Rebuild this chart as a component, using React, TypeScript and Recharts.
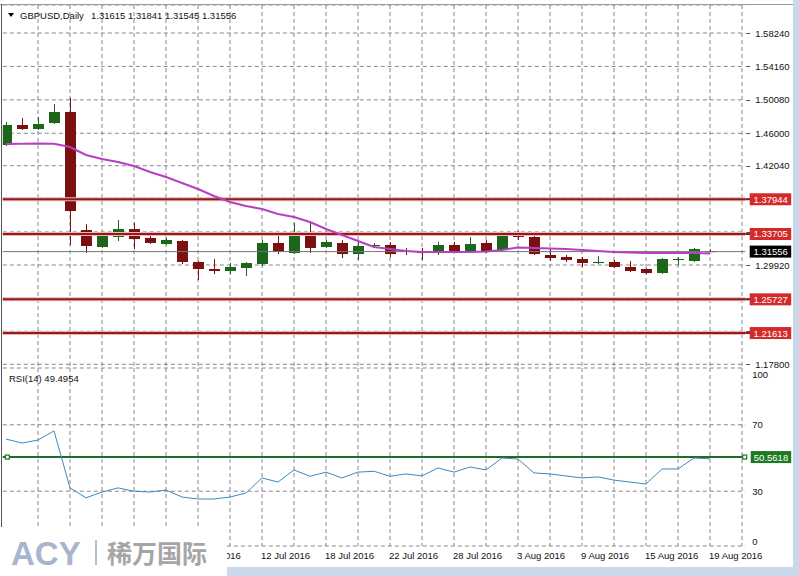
import React from 'react';
import {
  ComposedChart,
  Bar,
  Line,
  XAxis,
  YAxis,
  CartesianGrid,
  ReferenceLine,
} from 'recharts';

const FONT = '"Liberation Sans", Arial, sans-serif';

// daily bars, GBPUSD 20 Jun - 19 Aug 2016
const dates = [
  '20 Jun 2016', '21 Jun 2016', '22 Jun 2016', '23 Jun 2016', '24 Jun 2016',
  '27 Jun 2016', '28 Jun 2016', '29 Jun 2016', '30 Jun 2016', '1 Jul 2016',
  '4 Jul 2016', '5 Jul 2016', '6 Jul 2016', '7 Jul 2016', '8 Jul 2016',
  '11 Jul 2016', '12 Jul 2016', '13 Jul 2016', '14 Jul 2016', '15 Jul 2016',
  '18 Jul 2016', '19 Jul 2016', '20 Jul 2016', '21 Jul 2016', '22 Jul 2016',
  '25 Jul 2016', '26 Jul 2016', '27 Jul 2016', '28 Jul 2016', '29 Jul 2016',
  '1 Aug 2016', '2 Aug 2016', '3 Aug 2016', '4 Aug 2016', '5 Aug 2016',
  '8 Aug 2016', '9 Aug 2016', '10 Aug 2016', '11 Aug 2016', '12 Aug 2016',
  '15 Aug 2016', '16 Aug 2016', '17 Aug 2016', '18 Aug 2016', '19 Aug 2016',
];

const opens = [
  1.4457, 1.4701, 1.4652, 1.4725, 1.4860, 1.3419, 1.3212, 1.3334, 1.3431, 1.3322,
  1.3248, 1.3285, 1.3029, 1.2943, 1.2919, 1.2955, 1.3004, 1.3261, 1.3138, 1.3346,
  1.3212, 1.3261, 1.3126, 1.3224, 1.3236, 1.3163, 1.3151, 1.3138, 1.3236, 1.3163,
  1.3261, 1.3175, 1.3383, 1.3334, 1.3114, 1.3090, 1.3065, 1.3016, 1.3029, 1.2968,
  1.2943, 1.2894, 1.3053, 1.3041, 1.31615,
];
const highs = [
  1.4738, 1.4786, 1.4799, 1.4957, 1.5031, 1.3492, 1.3383, 1.3541, 1.3505, 1.3358,
  1.3322, 1.3297, 1.3041, 1.3065, 1.3016, 1.3029, 1.3297, 1.3346, 1.3505, 1.3505,
  1.3297, 1.3297, 1.3273, 1.3261, 1.3273, 1.3200, 1.3200, 1.3273, 1.3273, 1.3334,
  1.3297, 1.3395, 1.3407, 1.3358, 1.3187, 1.3114, 1.3090, 1.3102, 1.3053, 1.3041,
  1.2955, 1.3077, 1.3090, 1.3200, 1.31841,
];
const lows = [
  1.4445, 1.4640, 1.4640, 1.4713, 1.3236, 1.3138, 1.3200, 1.3285, 1.3187, 1.3248,
  1.3236, 1.3004, 1.2809, 1.2882, 1.2882, 1.2858, 1.2980, 1.3126, 1.3126, 1.3138,
  1.3200, 1.3077, 1.3053, 1.3200, 1.3090, 1.3114, 1.3053, 1.3114, 1.3138, 1.3138,
  1.3138, 1.3163, 1.3297, 1.3114, 1.3041, 1.3029, 1.2968, 1.3004, 1.2955, 1.2906,
  1.2882, 1.2882, 1.2992, 1.3029, 1.31545,
];
const closes = [
  1.4701, 1.4652, 1.4713, 1.4860, 1.3651, 1.3224, 1.3358, 1.3431, 1.3309, 1.3261,
  1.3297, 1.3029, 1.2943, 1.2919, 1.2968, 1.3016, 1.3261, 1.3151, 1.3358, 1.3200,
  1.3273, 1.3126, 1.3224, 1.3236, 1.3126, 1.3151, 1.3138, 1.3236, 1.3163, 1.3248,
  1.3163, 1.3383, 1.3334, 1.3126, 1.3077, 1.3053, 1.3016, 1.3029, 1.2968, 1.2919,
  1.2894, 1.3065, 1.3065, 1.3187, 1.31556,
];
const maValues = [
  1.4470, 1.4472, 1.4475, 1.4472, 1.4432, 1.4335, 1.4286, 1.4249, 1.4200, 1.4127,
  1.4066, 1.3993, 1.3920, 1.3834, 1.3761, 1.3712, 1.3676, 1.3615, 1.3578, 1.3517,
  1.3431, 1.3358, 1.3285, 1.3212, 1.3187, 1.3163, 1.3151, 1.3151, 1.3151, 1.3151,
  1.3157, 1.3175, 1.3206, 1.3200, 1.3194, 1.3187, 1.3175, 1.3163, 1.3151, 1.3145,
  1.3138, 1.3138, 1.3138, 1.3138, 1.3132,
];
const rsiValues = [
  61.4, 59.0, 60.8, 66.3, 32.0, 26.0, 29.5, 32.0, 30.0, 29.5,
  30.7, 26.5, 25.3, 25.3, 26.5, 28.9, 38.0, 35.5, 42.8, 39.0,
  41.5, 38.0, 41.5, 42.0, 39.0, 40.4, 39.2, 44.0, 41.5, 44.6,
  42.8, 50.0, 49.4, 41.0, 40.4, 39.2, 38.0, 38.6, 36.7, 35.5,
  34.3, 43.4, 43.4, 50.0, 49.5,
];

const priceTicks = [1.178, 1.2184, 1.2588, 1.2992, 1.3396, 1.381, 1.4204, 1.46, 1.5008, 1.5416, 1.5824];
const shownPriceTicks = [1.178, 1.2992, 1.4204, 1.46, 1.5008, 1.5416, 1.5824];
const levelLines = [1.37944, 1.33705, 1.25727, 1.21613];
const lastPrice = 1.31556;
const rsiTicks = [0, 30, 70, 100];
const rsiGrid = [30, 70];
const rsiLevel = 50.5618;
const gridIdx = [2, 4, 6, 8, 10, 12, 14, 16, 18, 20, 22, 24, 26, 28, 30, 32, 34, 36, 38, 40, 42, 44, 46];
// labels left of 6 Jul sit under the logo in the original screenshot
const dateTickIdx = [12, 16, 20, 24, 28, 32, 36, 40, 44];

const X_DOMAIN: [number, number] = [-0.2, 46.2];
const GRID = '#85858f';
const BULL = '#1b661b';
const BEAR = '#7a1010';
const LEVEL = '#8e1c1c';
const TAG_RED = '#d42a2a';
const GREEN = '#1f6d1f';

// grid positions through the axis scale (fallback: linear map of the plot box)
const xGrid = ({ xAxis, offset }: any) =>
  gridIdx.map((g) =>
    xAxis && typeof xAxis.scale === 'function'
      ? xAxis.scale(g)
      : offset.left + ((g - X_DOMAIN[0]) / (X_DOMAIN[1] - X_DOMAIN[0])) * offset.width
  );

const rsiYGrid = ({ yAxis, offset }: any) =>
  rsiGrid.map((v) =>
    yAxis && typeof yAxis.scale === 'function'
      ? yAxis.scale(v)
      : offset.top + ((104.2 - v) / 107.2) * offset.height
  );

const Candle = (props: any) => {
  const { x, y, width, height, payload } = props;
  if (!payload) return null;
  const { open, close, high, low } = payload;
  const top = Math.min(y, y + height);
  const h = Math.abs(height);
  const per = high > low ? h / (high - low) : 0;
  const yOf = (v: number) => top + (high - v) * per;
  const cx = Math.round(x + width / 2);
  const color = close >= open ? BULL : BEAR;
  const bTop = yOf(Math.max(open, close));
  const bH = Math.max(1, Math.abs(open - close) * per);
  return (
    <g>
      <line x1={cx + 0.5} x2={cx + 0.5} y1={top} y2={top + h} stroke={color} strokeWidth={1} />
      <rect x={cx - 5} y={bTop} width={11} height={bH} fill={color} />
    </g>
  );
};

const PriceTick = (props: any) => {
  const { x, y, payload } = props;
  const v = payload.value;
  const yy = Math.round(y) + 0.5;
  return (
    <g>
      <line x1={x + 1} x2={x + 5} y1={yy} y2={yy} stroke="#555" />
      {shownPriceTicks.includes(v) && (
        <text x={x + 10} y={y} dy={3.5} fontSize={9.5} fill="#111" fontFamily={FONT}>
          {v.toFixed(5)}
        </text>
      )}
    </g>
  );
};

const RsiTick = (props: any) => {
  const { x, y, payload } = props;
  return (
    <text x={x + 7} y={y} dy={3.5} fontSize={9.5} fill="#111" fontFamily={FONT}>
      {payload.value}
    </text>
  );
};

const DateTick = (props: any) => {
  const { x, y, payload } = props;
  const clipped = payload.value === 12;
  return (
    <g>
      {clipped && (
        <clipPath id="logo-cut">
          <rect x={227} y={y} width={60} height={20} />
        </clipPath>
      )}
      <text
        x={x - 1}
        y={y + 12.5}
        fontSize={9.5}
        fill="#111"
        fontFamily={FONT}
        textAnchor="start"
        clipPath={clipped ? 'url(#logo-cut)' : undefined}
      >
        {dates[payload.value]}
      </text>
    </g>
  );
};

const PriceTag = (props: any) => {
  const { viewBox, text, fill, lineColor } = props;
  if (!viewBox) return null;
  const right = viewBox.x + viewBox.width;
  const y = viewBox.y;
  return (
    <g>
      {lineColor && <line x1={right} x2={right + 5} y1={y} y2={y} stroke={lineColor} strokeWidth={2} />}
      <rect x={right + 4.5} y={y - 6} width={41.5} height={12} fill={fill} />
      <text x={right + 25.5} y={y} dy={3.5} fontSize={9.5} fill="#fff" textAnchor="middle" fontFamily={FONT}>
        {text}
      </text>
    </g>
  );
};

const RsiTag = (props: any) => {
  const { viewBox } = props;
  if (!viewBox) return null;
  const left = viewBox.x;
  const right = viewBox.x + viewBox.width;
  const y = viewBox.y;
  return (
    <g>
      <rect x={left + 2.5} y={y - 2} width={4} height={4} fill="#fff" stroke={GREEN} strokeWidth={1.2} />
      <rect x={right - 2.5} y={y - 2} width={4} height={4} fill="#fff" stroke={GREEN} strokeWidth={1.2} />
      <rect x={right + 5.5} y={y - 6} width={40.5} height={12} fill="#1e7a22" />
      <text x={right + 25.8} y={y} dy={3.5} fontSize={9.5} fill="#fff" textAnchor="middle" fontFamily={FONT}>
        {rsiLevel.toFixed(4)}
      </text>
    </g>
  );
};

export default function App() {
  const data = dates.map((d, i) => ({
    i,
    date: d,
    open: opens[i],
    high: highs[i],
    low: lows[i],
    close: closes[i],
    range: [lows[i], highs[i]],
    ma: maValues[i],
    rsi: rsiValues[i],
  }));

  return (
    <div
      style={{
        position: 'absolute',
        left: 0,
        top: 0,
        width: 799,
        height: 576,
        background: '#fff',
        overflow: 'hidden',
        fontFamily: FONT,
      }}
    >
      {/* price pane */}
      <div style={{ position: 'absolute', left: 0, top: 0 }}>
        <ComposedChart width={799} height={370} data={data} margin={{ top: 5, right: 0, bottom: 2, left: 2.8 }}>
          <CartesianGrid
            stroke={GRID}
            strokeDasharray="4 3"
            verticalCoordinatesGenerator={xGrid}
          />
          <XAxis type="number" dataKey="i" domain={X_DOMAIN} allowDataOverflow hide />
          <YAxis
            orientation="right"
            width={53.8}
            domain={[1.17347, 1.61658]}
            allowDataOverflow
            ticks={priceTicks}
            interval={0}
            tick={<PriceTick />}
            tickLine={false}
            axisLine={false}
            tickSize={0}
            tickMargin={0}
          />
          {levelLines.map((lv) => (
            <ReferenceLine key={'h' + lv} y={lv} stroke="#f2b4b4" strokeWidth={4} />
          ))}
          {levelLines.map((lv) => (
            <ReferenceLine
              key={'l' + lv}
              y={lv}
              stroke={LEVEL}
              strokeWidth={2}
              label={<PriceTag text={lv.toFixed(5)} fill={TAG_RED} lineColor={LEVEL} />}
            />
          ))}
          <ReferenceLine
            y={lastPrice}
            stroke="#777"
            strokeWidth={1}
            label={<PriceTag text={lastPrice.toFixed(5)} fill="#000" />}
          />
          <Bar dataKey="range" barSize={11} shape={(p: any) => <Candle {...p} />} isAnimationActive={false} />
          <Line
            type="linear"
            dataKey="ma"
            stroke="#b93fc2"
            strokeWidth={2}
            dot={false}
            activeDot={false}
            isAnimationActive={false}
          />
        </ComposedChart>
      </div>

      {/* RSI pane */}
      <div style={{ position: 'absolute', left: 0, top: 368 }}>
        <ComposedChart width={799} height={208} data={data} margin={{ top: 0, right: 0, bottom: 8, left: 2.8 }}>
          <CartesianGrid
            stroke={GRID}
            strokeDasharray="4 3"
            verticalCoordinatesGenerator={xGrid}
            horizontalCoordinatesGenerator={rsiYGrid}
          />
          <XAxis
            type="number"
            dataKey="i"
            domain={X_DOMAIN}
            allowDataOverflow
            ticks={dateTickIdx}
            interval={0}
            tick={<DateTick />}
            tickLine={false}
            tickSize={0}
            tickMargin={0}
            height={22}
            axisLine={{ stroke: GRID, strokeDasharray: '4 3' }}
          />
          <YAxis
            orientation="right"
            width={53.8}
            domain={[-3, 104.2]}
            allowDataOverflow
            ticks={rsiTicks}
            interval={0}
            tick={<RsiTick />}
            tickLine={false}
            axisLine={false}
            tickSize={0}
            tickMargin={0}
          />
          <ReferenceLine y={rsiLevel} stroke={GREEN} strokeWidth={2} label={<RsiTag />} />
          <Line
            type="linear"
            dataKey="rsi"
            stroke="#3a8bbf"
            strokeWidth={1}
            dot={false}
            activeDot={false}
            isAnimationActive={false}
          />
        </ComposedChart>
      </div>

      {/* window frame, titles and logo */}
      <svg width={799} height={576} style={{ position: 'absolute', left: 0, top: 0, pointerEvents: 'none' }}>
        <line x1={0} y1={4.5} x2={793} y2={4.5} stroke="#9a9a9a" />
        <line x1={1.5} y1={4} x2={1.5} y2={567} stroke="#555" />
        <polygon points="8,13 14,13 11,17" fill="#000" />
        <text x={20} y={18.5} fontSize={9.5} fill="#111" fontFamily={FONT}>GBPUSD,Daily</text>
        <text x={91} y={18.5} fontSize={9.5} fill="#111" fontFamily={FONT}>1.31615 1.31841 1.31545 1.31556</text>
        <text x={9} y={381.5} fontSize={9.5} fill="#111" fontFamily={FONT}>RSI(14) 49.4954</text>
        <rect x={793} y={0} width={6} height={576} fill="#c9d8eb" />
        <rect x={227} y={567} width={572} height={9} fill="#c9d8eb" />
        <rect x={0} y={527} width={227} height={49} fill="#fff" />
        <text x={11} y={565} fontSize={33} fontWeight={900} fill="#a8b5ce" fontFamily={FONT}>ACY</text>
        <rect x={95} y={540} width={2} height={25} fill="#b9bdc6" />
        <text x={107} y={563} fontSize={25} fontWeight={700} fill="#a5a5a5" fontFamily='"Noto Sans CJK SC", sans-serif'>
          稀万国际
        </text>
      </svg>
    </div>
  );
}
